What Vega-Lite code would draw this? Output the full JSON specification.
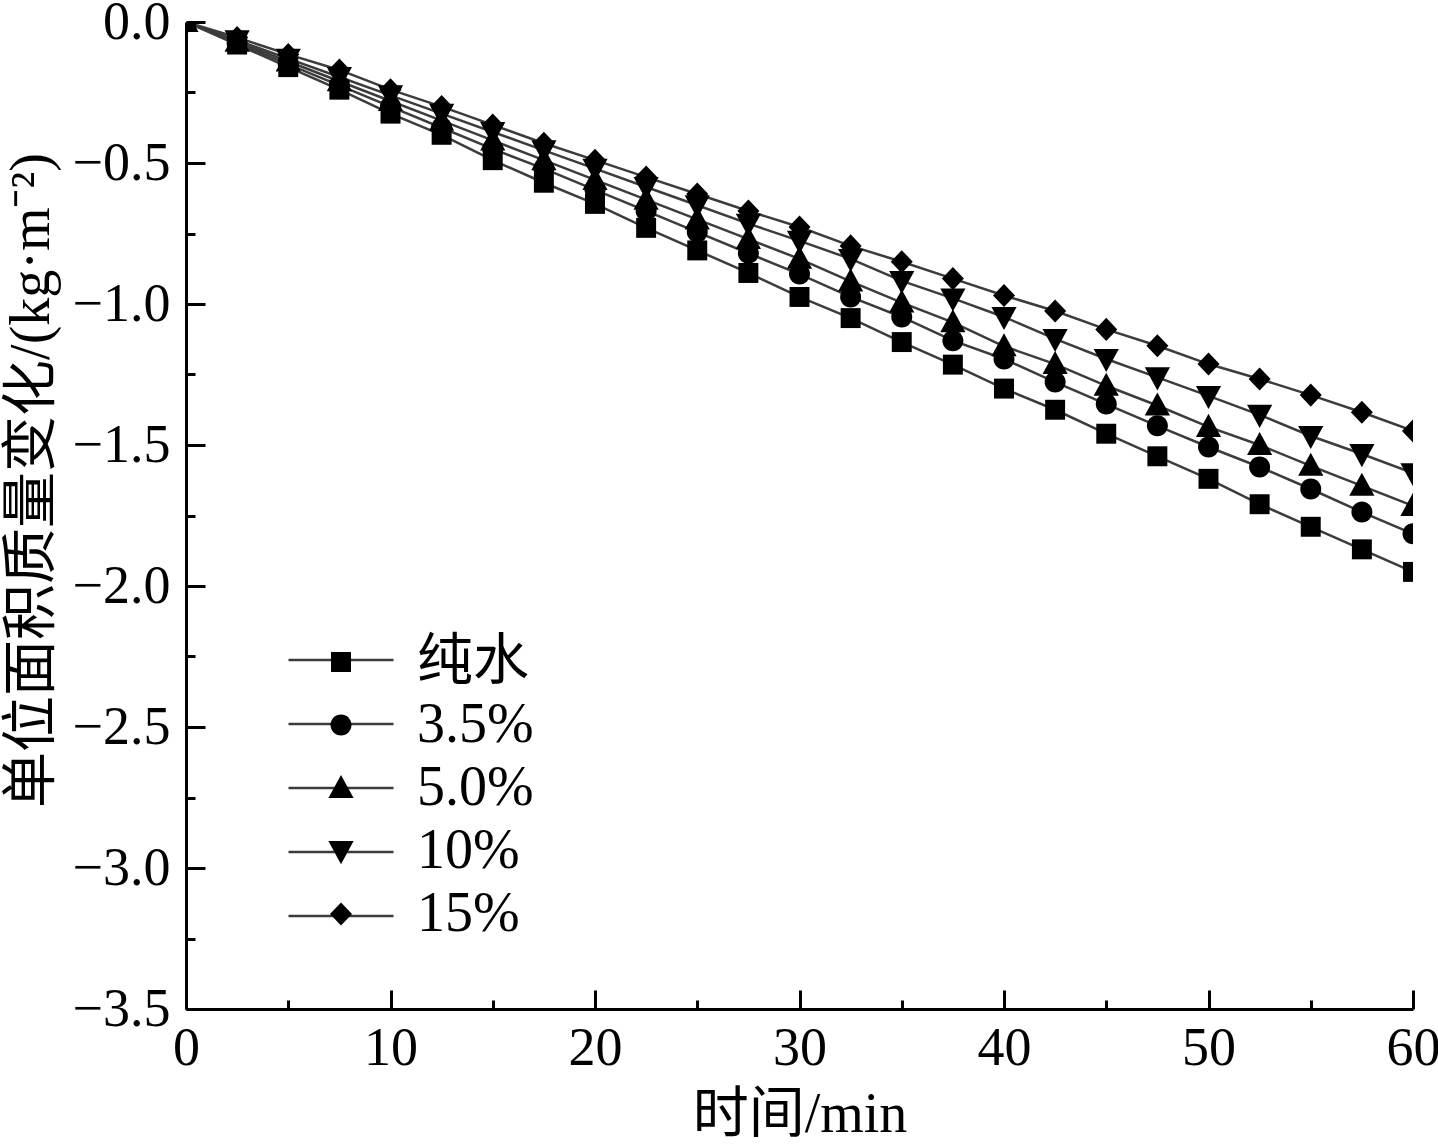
{
  "$schema": "https://vega.github.io/schema/vega-lite/v6.json",
  "width": 1227,
  "height": 987,
  "autosize": "none",
  "padding": {"left": 186, "top": 22, "right": 25, "bottom": 138},
  "background": "white",
  "config": {
    "view": {"stroke": null},
    "font": "Liberation Serif",
    "axis": {
      "labelFont": "Liberation Serif, Noto Sans CJK SC",
      "titleFont": "Liberation Serif, Noto Sans CJK SC",
      "labelFontSize": 54,
      "titleFontSize": 56,
      "titleFontWeight": "normal",
      "labelColor": "black",
      "titleColor": "black",
      "domainColor": "black",
      "domainWidth": 3,
      "tickColor": "black",
      "tickWidth": 3,
      "grid": false,
      "labelOverlap": false,
      "labelFlush": false
    },
    "legend": {
      "labelFont": "Liberation Serif, Noto Sans CJK SC",
      "labelFontSize": 56,
      "labelColor": "black"
    }
  },
  "data": {
    "values": [
      {"t": 0, "v": 0, "s": "纯水"},
      {"t": 2.5, "v": -0.08, "s": "纯水"},
      {"t": 5, "v": -0.16, "s": "纯水"},
      {"t": 7.5, "v": -0.24, "s": "纯水"},
      {"t": 10, "v": -0.325, "s": "纯水"},
      {"t": 12.5, "v": -0.4, "s": "纯水"},
      {"t": 15, "v": -0.49, "s": "纯水"},
      {"t": 17.5, "v": -0.57, "s": "纯水"},
      {"t": 20, "v": -0.645, "s": "纯水"},
      {"t": 22.5, "v": -0.73, "s": "纯水"},
      {"t": 25, "v": -0.81, "s": "纯水"},
      {"t": 27.5, "v": -0.89, "s": "纯水"},
      {"t": 30, "v": -0.975, "s": "纯水"},
      {"t": 32.5, "v": -1.05, "s": "纯水"},
      {"t": 35, "v": -1.135, "s": "纯水"},
      {"t": 37.5, "v": -1.215, "s": "纯水"},
      {"t": 40, "v": -1.3, "s": "纯水"},
      {"t": 42.5, "v": -1.375, "s": "纯水"},
      {"t": 45, "v": -1.46, "s": "纯水"},
      {"t": 47.5, "v": -1.54, "s": "纯水"},
      {"t": 50, "v": -1.62, "s": "纯水"},
      {"t": 52.5, "v": -1.71, "s": "纯水"},
      {"t": 55, "v": -1.79, "s": "纯水"},
      {"t": 57.5, "v": -1.87, "s": "纯水"},
      {"t": 60, "v": -1.95, "s": "纯水"},

      {"t": 0, "v": 0, "s": "3.5%"},
      {"t": 2.5, "v": -0.075, "s": "3.5%"},
      {"t": 5, "v": -0.15, "s": "3.5%"},
      {"t": 7.5, "v": -0.225, "s": "3.5%"},
      {"t": 10, "v": -0.3, "s": "3.5%"},
      {"t": 12.5, "v": -0.375, "s": "3.5%"},
      {"t": 15, "v": -0.45, "s": "3.5%"},
      {"t": 17.5, "v": -0.52, "s": "3.5%"},
      {"t": 20, "v": -0.595, "s": "3.5%"},
      {"t": 22.5, "v": -0.67, "s": "3.5%"},
      {"t": 25, "v": -0.745, "s": "3.5%"},
      {"t": 27.5, "v": -0.82, "s": "3.5%"},
      {"t": 30, "v": -0.894, "s": "3.5%"},
      {"t": 32.5, "v": -0.975, "s": "3.5%"},
      {"t": 35, "v": -1.046, "s": "3.5%"},
      {"t": 37.5, "v": -1.13, "s": "3.5%"},
      {"t": 40, "v": -1.195, "s": "3.5%"},
      {"t": 42.5, "v": -1.277, "s": "3.5%"},
      {"t": 45, "v": -1.355, "s": "3.5%"},
      {"t": 47.5, "v": -1.432, "s": "3.5%"},
      {"t": 50, "v": -1.507, "s": "3.5%"},
      {"t": 52.5, "v": -1.578, "s": "3.5%"},
      {"t": 55, "v": -1.656, "s": "3.5%"},
      {"t": 57.5, "v": -1.738, "s": "3.5%"},
      {"t": 60, "v": -1.815, "s": "3.5%"},

      {"t": 0, "v": 0, "s": "5.0%"},
      {"t": 2.5, "v": -0.07, "s": "5.0%"},
      {"t": 5, "v": -0.14, "s": "5.0%"},
      {"t": 7.5, "v": -0.21, "s": "5.0%"},
      {"t": 10, "v": -0.28, "s": "5.0%"},
      {"t": 12.5, "v": -0.35, "s": "5.0%"},
      {"t": 15, "v": -0.42, "s": "5.0%"},
      {"t": 17.5, "v": -0.49, "s": "5.0%"},
      {"t": 20, "v": -0.56, "s": "5.0%"},
      {"t": 22.5, "v": -0.63, "s": "5.0%"},
      {"t": 25, "v": -0.7, "s": "5.0%"},
      {"t": 27.5, "v": -0.77, "s": "5.0%"},
      {"t": 30, "v": -0.84, "s": "5.0%"},
      {"t": 32.5, "v": -0.92, "s": "5.0%"},
      {"t": 35, "v": -0.995, "s": "5.0%"},
      {"t": 37.5, "v": -1.065, "s": "5.0%"},
      {"t": 40, "v": -1.15, "s": "5.0%"},
      {"t": 42.5, "v": -1.213, "s": "5.0%"},
      {"t": 45, "v": -1.29, "s": "5.0%"},
      {"t": 47.5, "v": -1.36, "s": "5.0%"},
      {"t": 50, "v": -1.436, "s": "5.0%"},
      {"t": 52.5, "v": -1.5, "s": "5.0%"},
      {"t": 55, "v": -1.574, "s": "5.0%"},
      {"t": 57.5, "v": -1.645, "s": "5.0%"},
      {"t": 60, "v": -1.716, "s": "5.0%"},

      {"t": 0, "v": 0, "s": "10%"},
      {"t": 2.5, "v": -0.065, "s": "10%"},
      {"t": 5, "v": -0.13, "s": "10%"},
      {"t": 7.5, "v": -0.195, "s": "10%"},
      {"t": 10, "v": -0.26, "s": "10%"},
      {"t": 12.5, "v": -0.325, "s": "10%"},
      {"t": 15, "v": -0.39, "s": "10%"},
      {"t": 17.5, "v": -0.455, "s": "10%"},
      {"t": 20, "v": -0.52, "s": "10%"},
      {"t": 22.5, "v": -0.585, "s": "10%"},
      {"t": 25, "v": -0.65, "s": "10%"},
      {"t": 27.5, "v": -0.715, "s": "10%"},
      {"t": 30, "v": -0.776, "s": "10%"},
      {"t": 32.5, "v": -0.84, "s": "10%"},
      {"t": 35, "v": -0.918, "s": "10%"},
      {"t": 37.5, "v": -0.98, "s": "10%"},
      {"t": 40, "v": -1.046, "s": "10%"},
      {"t": 42.5, "v": -1.124, "s": "10%"},
      {"t": 45, "v": -1.195, "s": "10%"},
      {"t": 47.5, "v": -1.26, "s": "10%"},
      {"t": 50, "v": -1.326, "s": "10%"},
      {"t": 52.5, "v": -1.393, "s": "10%"},
      {"t": 55, "v": -1.468, "s": "10%"},
      {"t": 57.5, "v": -1.532, "s": "10%"},
      {"t": 60, "v": -1.6, "s": "10%"},

      {"t": 0, "v": 0, "s": "15%"},
      {"t": 2.5, "v": -0.055, "s": "15%"},
      {"t": 5, "v": -0.115, "s": "15%"},
      {"t": 7.5, "v": -0.17, "s": "15%"},
      {"t": 10, "v": -0.24, "s": "15%"},
      {"t": 12.5, "v": -0.3, "s": "15%"},
      {"t": 15, "v": -0.365, "s": "15%"},
      {"t": 17.5, "v": -0.43, "s": "15%"},
      {"t": 20, "v": -0.49, "s": "15%"},
      {"t": 22.5, "v": -0.55, "s": "15%"},
      {"t": 25, "v": -0.61, "s": "15%"},
      {"t": 27.5, "v": -0.67, "s": "15%"},
      {"t": 30, "v": -0.727, "s": "15%"},
      {"t": 32.5, "v": -0.794, "s": "15%"},
      {"t": 35, "v": -0.85, "s": "15%"},
      {"t": 37.5, "v": -0.91, "s": "15%"},
      {"t": 40, "v": -0.97, "s": "15%"},
      {"t": 42.5, "v": -1.025, "s": "15%"},
      {"t": 45, "v": -1.09, "s": "15%"},
      {"t": 47.5, "v": -1.148, "s": "15%"},
      {"t": 50, "v": -1.213, "s": "15%"},
      {"t": 52.5, "v": -1.266, "s": "15%"},
      {"t": 55, "v": -1.323, "s": "15%"},
      {"t": 57.5, "v": -1.384, "s": "15%"},
      {"t": 60, "v": -1.45, "s": "15%"}
    ]
  },
  "layer": [
    {
      "mark": {"type": "line", "strokeWidth": 2.5, "clip": true},
      "encoding": {
        "x": {
          "field": "t", "type": "quantitative",
          "scale": {"domain": [0, 60], "nice": false},
          "axis": {
            "values": [0, 5, 10, 15, 20, 25, 30, 35, 40, 45, 50, 55, 60],
            "labelExpr": "datum.value % 10 === 0 ? datum.label : ''",
            "tickSize": {"condition": {"test": "datum.value % 10 === 0", "value": -19}, "value": -9},
            "labelPadding": 31,
            "title": "时间/min",
            "titlePadding": 2
          }
        },
        "y": {
          "field": "v", "type": "quantitative",
          "scale": {"domain": [-3.5, 0], "nice": false},
          "axis": {
            "values": [0, -0.25, -0.5, -0.75, -1, -1.25, -1.5, -1.75, -2, -2.25, -2.5, -2.75, -3, -3.25, -3.5],
            "format": ".1f",
            "labelExpr": "abs(datum.value * 2 - round(datum.value * 2)) < 0.01 ? datum.label : ''",
            "tickSize": {"condition": {"test": "abs(datum.value * 2 - round(datum.value * 2)) < 0.01", "value": -19}, "value": -9},
            "labelPadding": 35,
            "title": "单位面积质量变化/(kg·m⁻²)",
            "titleX": -126,
            "titleY": 458
          }
        },
        "color": {
          "field": "s", "type": "nominal", "sort": null,
          "scale": {"range": ["#3c3c3c", "#3c3c3c", "#3c3c3c", "#3c3c3c", "#3c3c3c"]},
          "legend": {
            "title": null,
            "orient": "none",
            "legendX": 101,
            "legendY": 610,
            "padding": 0,
            "symbolType": "M-5,0H5",
            "symbolSize": 441,
            "symbolStrokeWidth": 2.5,
            "symbolOffset": 26,
            "labelOffset": 48,
            "labelExpr": "''",
            "labelOpacity": 0,
            "rowPadding": 8,
            "zindex": 0
          }
        }
      }
    },
    {
      "mark": {"type": "point", "filled": true, "opacity": 1, "color": "black", "size": 441, "clip": true},
      "encoding": {
        "x": {"field": "t", "type": "quantitative"},
        "y": {"field": "v", "type": "quantitative"},
        "shape": {
          "field": "s", "type": "nominal",
          "scale": {
            "domain": ["纯水", "3.5%", "5.0%", "10%", "15%"],
            "range": [
              "M-0.95,-0.95H0.95V0.95H-0.95Z",
              "M-1,0A1,1,0,1,1,1,0A1,1,0,1,1,-1,0Z",
              "M0,-1.25L1.2,0.95L-1.2,0.95Z",
              "M-1.2,-0.95H1.2L0,1.25Z",
              "M0,-1.1L1.05,0L0,1.1L-1.05,0Z"
            ]
          },
          "legend": {
            "title": null,
            "orient": "none",
            "legendX": 101,
            "legendY": 612,
            "padding": 0,
            "symbolSize": 441,
            "symbolStrokeWidth": 0,
            "symbolFillColor": "black",
            "symbolOpacity": 1,
            "symbolOffset": 26,
            "labelOffset": 48,
            "rowPadding": 7,
            "zindex": 1
          }
        }
      }
    }
  ]
}
